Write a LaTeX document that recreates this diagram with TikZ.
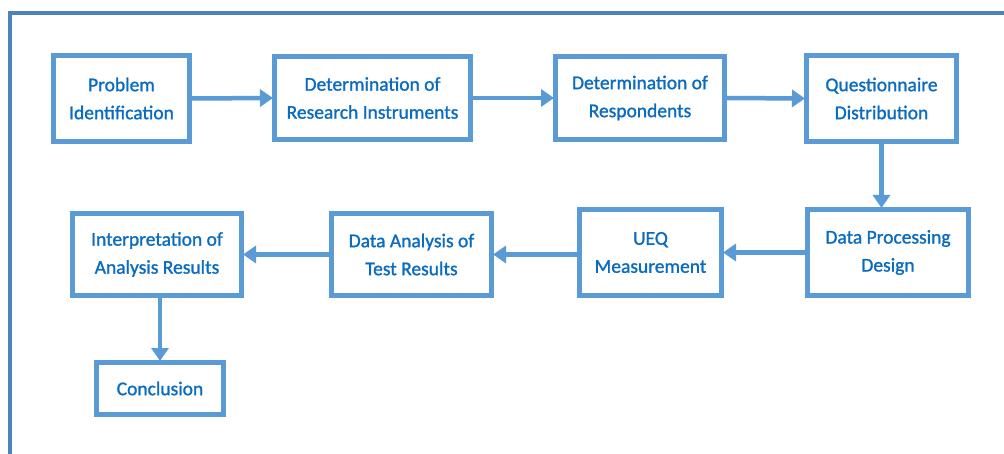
\documentclass[tikz,border=0pt]{standalone}
\usepackage{fontspec}
\setmainfont{Carlito}
\newfontfamily\boxfont[FakeBold=1.2]{Carlito}
\usetikzlibrary{arrows.meta}
\definecolor{frameblue}{HTML}{4F81BD}
\definecolor{boxblue}{HTML}{5B9BD5}
\definecolor{textblue}{HTML}{0A6CC0}
\tikzset{
  x=1pt,y=-1pt,
  stepbox/.style={draw=boxblue,line width=5pt,fill=white,text=textblue,
    font=\boxfont\fontsize{19.5}{28}\selectfont,align=center,inner sep=0pt},
  flow/.style={draw=boxblue,line width=4.5pt,-{Triangle[length=13pt,width=17pt]},shorten >=-1pt}
}
\begin{document}
\begin{tikzpicture}
\useasboundingbox (0,0) rectangle (1004,454);
\fill[white] (0,0) rectangle (1004,454);
\coordinate (fA) at (10,454);
\coordinate (fB) at (10,13.5);
\coordinate (fC) at (1004,13.5);
\draw[frameblue,line width=4pt] (fA) -- (fB) -- (fC);

\node[stepbox,minimum width=136pt,minimum height=86pt] (n1) at (121.5,98.5) {Problem\\Identification};
\node[stepbox,minimum width=196pt,minimum height=83pt] (n2) at (372.5,98) {Determination of\\Research Instruments};
\node[stepbox,minimum width=169pt,minimum height=83pt] (n3) at (640,98) {Determination of\\Respondents};
\node[stepbox,minimum width=150pt,minimum height=86pt] (n4) at (881.5,98.5) {Questionnaire\\Distribution};
\node[stepbox,minimum width=161pt,minimum height=86pt] (n5) at (888,252.5) {Data Processing\\Design};
\node[stepbox,minimum width=142pt,minimum height=86pt] (n6) at (650.5,252.5) {UEQ\\Measurement};
\node[stepbox,minimum width=160pt,minimum height=82pt] (n7) at (411.5,254.5) {Data Analysis of\\Test Results};
\node[stepbox,minimum width=169pt,minimum height=82pt] (n8) at (157,254.5) {Interpretation of\\Analysis Results};
\node[stepbox,minimum width=127pt,minimum height=52pt] (n9) at (160,388.5) {Conclusion};

\draw[flow] (n1.east) -- (n2.west);
\draw[flow] (n2.east) -- (n3.west);
\draw[flow] (n3.east) -- (n4.west);
\draw[flow] (n4.south) -- (n5.north -| n4.south);
\draw[flow] (n5.west) -- (n6.east);
\draw[flow] (n6.west |- n7.east) -- (n7.east);
\draw[flow] (n7.west) -- (n8.east);
\draw[flow] (n8.south -| n9.north) -- (n9.north);
\end{tikzpicture}
\end{document}
